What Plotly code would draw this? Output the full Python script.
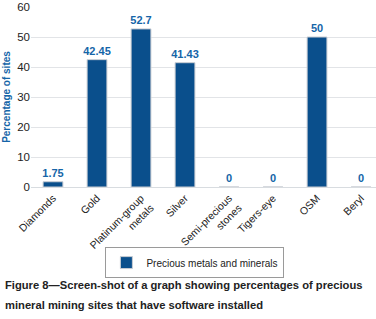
import plotly.graph_objects as go

categories = ["Diamonds", "Gold", "Platinum-group<br>metals", "Silver",
              "Semi-precious<br>stones", "Tigers-eye", "OSM", "Beryl"]
values = [1.75, 42.45, 52.7, 41.43, 0, 0, 50, 0]
value_labels = ["1.75", "42.45", "52.7", "41.43", "0", "0", "50", "0"]
series_name = "Precious metals and minerals"
y_ticks = [0, 10, 20, 30, 40, 50, 60]
caption_lines = ["Figure 8\u2014Screen-shot of a graph showing percentages of precious",
                 "mineral mining sites that have software installed"]

W, H = 376, 319
L, T, B = 31, 7, 132

fig = go.Figure()
fig.add_trace(go.Bar(
    x=list(range(len(categories))), y=values, name=series_name,
    text=value_labels, texttemplate="<b>%{text}</b>",
    textposition="outside", cliponaxis=False, constraintext="none",
    textfont=dict(family="Liberation Sans", size=11, color="#1565a8"),
    marker=dict(color="#0a4f8c", line=dict(color="#c9cdd3", width=1)),
    width=0.45,
))

fig.update_layout(
    width=W, height=H,
    margin=dict(l=L, r=0, t=T, b=B, autoexpand=False),
    paper_bgcolor="white", plot_bgcolor="white",
    showlegend=True,
    legend=dict(
        orientation="h", x=0.475, xanchor="center", y=-0.42, yanchor="middle",
        bordercolor="#9a9a9a", borderwidth=1, bgcolor="white",
        font=dict(family="Liberation Sans", size=10, color="#222"),
        itemwidth=30,
    ),
    xaxis=dict(
        range=[-0.5, 7.34], tickmode="array",
        tickvals=list(range(len(categories))), ticktext=categories,
        tickangle=-45, showgrid=False, showline=True, linecolor="#d8dce0",
        ticks="", tickfont=dict(family="Liberation Sans", size=10.5, color="#222"),
    ),
    yaxis=dict(
        range=[0, 60], tickmode="array", tickvals=y_ticks,
        showgrid=True, gridcolor="#e2e4e7", gridwidth=1, zeroline=False,
        ticks="", ticklen=0,
        tickfont=dict(family="Liberation Sans", size=11.5, color="#222"),
        title=dict(text="<b>Percentage of sites</b>", standoff=4,
                   font=dict(family="Liberation Sans", size=10, color="#1565a8")),
    ),
)

for i, line in enumerate(caption_lines):
    fig.add_annotation(
        text="<b>" + line + "</b>", xref="paper", yref="paper",
        x=(3 - L) / (W - L), xanchor="left",
        y=-(285 + 20 * i - 187) / 180, yanchor="middle",
        showarrow=False,
        font=dict(family="Liberation Sans", size=11.2, color="#222"),
    )

fig.write_html("out.html", config={"displayModeBar": False},
               post_script="document.body.style.margin='0';")
